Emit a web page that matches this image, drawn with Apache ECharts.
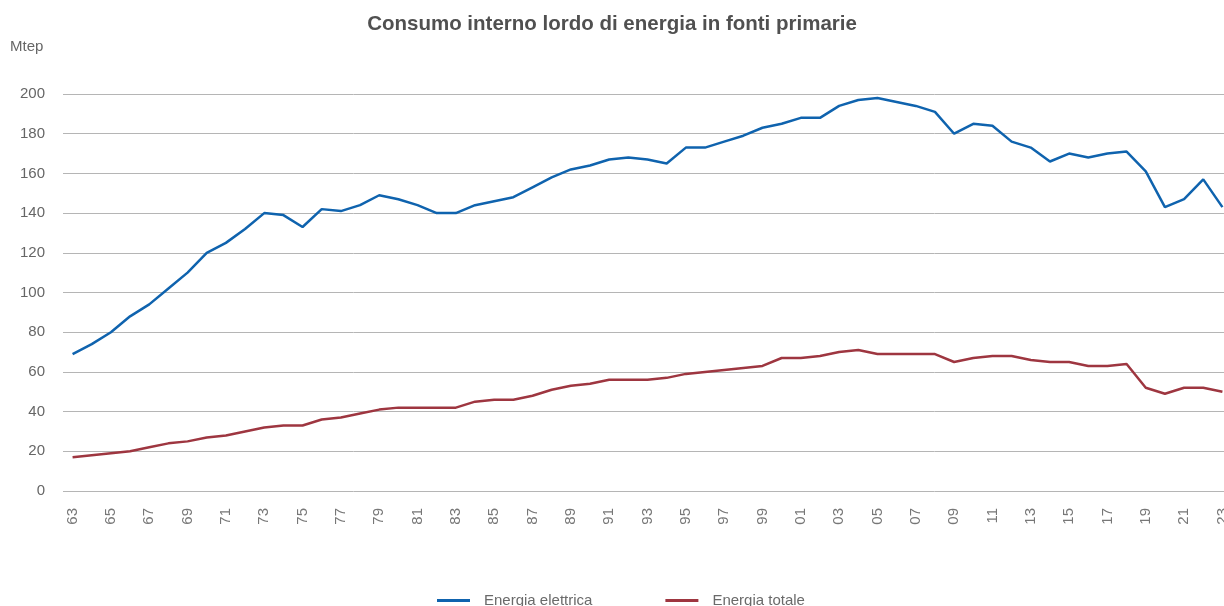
<!DOCTYPE html>
<html>
<head>
<meta charset="utf-8">
<script src="https://cdn.jsdelivr.net/npm/echarts@6/dist/echarts.min.js"></script>
<style>
html,body{margin:0;padding:0;background:#fff;}
#chart{width:1224px;height:606px;}
</style>
</head>
<body>
<div id="chart"></div>
<script>
const years = ['63','64','65','66','67','68','69','70','71','72','73','74','75','76','77','78','79','80','81','82','83','84','85','86','87','88','89','90','91','92','93','94','95','96','97','98','99','00','01','02','03','04','05','06','07','08','09','10','11','12','13','14','15','16','17','18','19','20','21','22','23'];
const energiaElettrica = [69,74,80,88,94,102,110,120,125,132,140,139,133,142,141,144,149,147,144,140,140,144,146,148,153,158,162,164,167,168,167,165,173,173,176,179,183,185,188,188,194,197,198,196,194,191,180,185,184,176,173,166,170,168,170,171,161,143,147,157,143];
const energiaTotale = [17,18,19,20,22,24,25,27,28,30,32,33,33,36,37,39,41,42,42,42,42,45,46,46,48,51,53,54,56,56,56,57,59,60,61,62,63,67,67,68,70,71,69,69,69,69,65,67,68,68,66,65,65,63,63,64,52,49,52,52,50];
const seriesNames = ['Energia elettrica','Energia totale'];

const chart = echarts.init(document.getElementById('chart'));
const font = 'Liberation Sans, Arial, Helvetica, sans-serif';
chart.setOption({
  animation: false,
  textStyle: {fontFamily: font},
  title: {
    text: 'Consumo interno lordo di energia in fonti primarie',
    left: 'center', top: 9,
    textStyle: {fontFamily: font, fontSize: 20.5, fontWeight: 'bold', color: '#505050'}
  },
  graphic: [{
    type: 'text', left: 10, top: 39,
    style: {text: 'Mtep', fill: '#666', font: '15px ' + font}
  }],
  legend: {
    bottom: -7, left: 432,
    itemWidth: 33, itemHeight: 3, itemGap: 73,
    icon: 'rect',
    textStyle: {fontFamily: font, fontSize: 15, color: '#6a6a6a', padding: [0,0,0,9]},
    data: seriesNames
  },
  grid: {left: 63, top: 94, width: 1169, height: 397, containLabel: false, outerBoundsMode: 'none'},
  xAxis: {
    type: 'category', data: years, boundaryGap: true,
    axisLine: {show: false}, axisTick: {show: false},
    axisLabel: {interval: 1, rotate: 90, color: '#777', fontSize: 15, margin: 17, fontFamily: font}
  },
  yAxis: {
    type: 'value', min: 0, max: 200, interval: 20,
    axisLine: {show: false}, axisTick: {show: false},
    axisLabel: {color: '#666', fontSize: 15, margin: 18, fontFamily: font},
    splitLine: {lineStyle: {color: '#b5b5b5', width: 1}}
  },
  series: [
    {name: seriesNames[0], type: 'line', data: energiaElettrica, symbol: 'none',
     lineStyle: {color: '#0F63AE', width: 2.5}, itemStyle: {color: '#0F63AE'}},
    {name: seriesNames[1], type: 'line', data: energiaTotale, symbol: 'none',
     lineStyle: {color: '#9E3640', width: 2.5}, itemStyle: {color: '#9E3640'}}
  ]
});
</script>
</body>
</html>
